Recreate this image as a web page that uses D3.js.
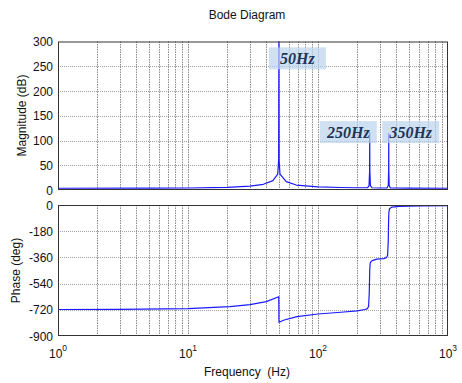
<!DOCTYPE html>
<html><head><meta charset="utf-8">
<script src="https://cdn.jsdelivr.net/npm/d3@7"></script>
<style>body{margin:0;background:#fff}svg{display:block}</style>
</head><body><svg id="c" width="462" height="383"></svg>
<script>
// ---- data ----
const magFreq = [1, 5, 10, 20, 30, 38, 45, 49, 49.8, 50, 50.2, 51, 57, 68, 100, 150, 200, 240, 247, 249.5, 250, 250.5, 253, 260, 300, 340, 347, 349.5, 350, 350.5, 353, 360, 500, 1000];
const magDb   = [3.5, 3.6, 4, 5.5, 8, 11.5, 19, 32, 60, 300, 60, 32, 17, 10, 6.5, 5, 4.5, 4.5, 9, 40, 116, 40, 9, 4.5, 4, 4, 9, 40, 114, 40, 9, 4, 3.8, 3.5];
const phaseFreq = [1, 3, 10, 21, 30, 40, 49.9, 50.1, 55, 69, 100, 150, 200, 230, 240, 245, 248, 250, 252, 256, 265, 283, 320, 336, 343, 347, 349, 351, 355, 370, 420, 600, 1000];
const phaseDeg  = [-718, -717, -712, -698, -685, -664, -630, -806, -790, -767, -749, -737, -727, -718, -712, -695, -600, -450, -400, -388, -380, -372, -368, -362, -345, -250, -120, -50, -25, -14, -10, -7, -5];
const magTicks = [0, 50, 100, 150, 200, 250, 300];
const phaseTicks = [0, -180, -360, -540, -720, -900];
const freqTicks = [1, 10, 100, 1000];
const freqTickExp = ["0", "1", "2", "3"];
const annoText = ["50Hz", "250Hz", "350Hz"];
const annoFreq = [69.5, 171, 517];
const annoDb = [266, 117, 117];

// ---- layout ----
const svg = d3.select("#c");
const L = 58, R = 448;
const x = d3.scaleLog().domain([1, 1000]).range([L, R]);
const yM = d3.scaleLinear().domain([0, 300]).range([190, 41.5]);
const yP = d3.scaleLinear().domain([-900, 0]).range([336, 205]);
const font = "'Liberation Sans', Arial, sans-serif";

const minor = [];
for (let d = 1; d < 1000; d *= 10) for (let k = 2; k <= 9; k++) minor.push(d * k);

function panel(y, ticks, freqs, vals, clipId) {
  const g = svg.append("g");
  const [y0, y1] = y.range();
  // grid
  g.selectAll(".gx").data(minor.concat(freqTicks.slice(1, -1))).enter().append("line")
    .attr("x1", d => Math.round(x(d)) + 0.5).attr("x2", d => Math.round(x(d)) + 0.5)
    .attr("y1", y1).attr("y2", y0)
    .attr("stroke", "#6e6e6e").attr("stroke-width", 0.8).attr("stroke-dasharray", "1.5,1");
  g.selectAll(".gy").data(ticks.slice(1, -1)).enter().append("line")
    .attr("x1", L).attr("x2", R)
    .attr("y1", d => Math.round(y(d)) + 0.5).attr("y2", d => Math.round(y(d)) + 0.5)
    .attr("stroke", "#8a8a8a").attr("stroke-width", 0.8).attr("stroke-dasharray", "1,1");
  // y tick labels
  g.selectAll(".ty").data(ticks).enter().append("text")
    .attr("x", L - 5).attr("y", d => y(d) + 4.5)
    .attr("text-anchor", "end").attr("font-family", font).attr("font-size", 12)
    .attr("fill", "#111").text(d => d);
  // clip
  svg.append("clipPath").attr("id", clipId).append("rect")
    .attr("x", L).attr("y", y1).attr("width", R - L).attr("height", y0 - y1);
  const pts = freqs.map((f, i) => [f, vals[i]]);
  g.append("path").datum(pts)
    .attr("clip-path", `url(#${clipId})`)
    .attr("fill", "none").attr("stroke", "#1a1aff").attr("stroke-width", 1.2)
    .attr("stroke-linejoin", "round")
    .attr("d", d3.line().x(d => x(d[0])).y(d => y(d[1])));
  // frame
  g.append("rect").attr("x", L + 0.5).attr("y", y1 + 0.5)
    .attr("width", R - L - 1).attr("height", y0 - y1 - 1)
    .attr("fill", "none").attr("stroke", "#333").attr("stroke-width", 1);
  return g;
}

panel(yM, magTicks, magFreq, magDb, "cm");
panel(yP, phaseTicks, phaseFreq, phaseDeg, "cp");

// annotations
const ag = svg.append("g");
annoText.forEach((t, i) => {
  const cx = x(annoFreq[i]), cy = yM(annoDb[i]);
  ag.append("rect").attr("x", cx - 28.5).attr("y", cy - 11).attr("width", 57).attr("height", 22)
    .attr("fill", "#bcd3ee").attr("opacity", 0.7);
  ag.append("text").attr("x", cx).attr("y", cy + 6)
    .attr("text-anchor", "middle")
    .attr("font-family", "'Liberation Serif', 'Times New Roman', serif")
    .attr("font-size", 16).attr("font-weight", "bold").attr("font-style", "italic")
    .attr("fill", "#1e3557").text(t);
});

// x tick labels
freqTicks.forEach((f, i) => {
  const t = svg.append("text").attr("x", x(f)).attr("y", 358)
    .attr("text-anchor", "middle").attr("font-family", font).attr("font-size", 12).attr("fill", "#111");
  t.append("tspan").text("10");
  t.append("tspan").attr("dy", -7).attr("font-size", 8.5).text(freqTickExp[i]);
});

// titles
svg.append("text").attr("x", 247).attr("y", 19).attr("text-anchor", "middle")
  .attr("font-family", font).attr("font-size", 12).attr("fill", "#111").text("Bode Diagram");
svg.append("text").attr("x", 247).attr("y", 376).attr("text-anchor", "middle")
  .attr("font-family", font).attr("font-size", 12).attr("fill", "#111")
  .style("white-space", "pre").text("Frequency  (Hz)");
svg.append("text").attr("transform", `translate(26,${(41 + 190) / 2}) rotate(-90)`)
  .attr("text-anchor", "middle").attr("font-family", font).attr("font-size", 12).attr("fill", "#111")
  .text("Magnitude (dB)");
svg.append("text").attr("transform", `translate(20,${(205 + 336) / 2}) rotate(-90)`)
  .attr("text-anchor", "middle").attr("font-family", font).attr("font-size", 12).attr("fill", "#111")
  .text("Phase (deg)");
</script></body></html>
